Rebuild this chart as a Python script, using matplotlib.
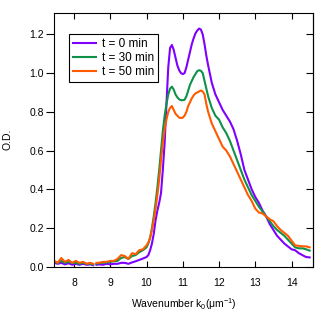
import numpy as np
import matplotlib
matplotlib.use("Agg")
import matplotlib.pyplot as plt

plt.rcParams['font.family'] = ['Liberation Sans', 'DejaVu Sans']
plt.rcParams['mathtext.fontset'] = 'custom'
plt.rcParams['mathtext.rm'] = 'Liberation Sans'
plt.rcParams['mathtext.it'] = 'Liberation Sans'

# wavenumber (um^-1); nan marks the gap in the measured data
wavenumber = [7.46, 7.55, 7.65, 7.75, 7.85, 7.95, 8.05, 8.15, 8.25, 8.35, 8.45, 8.53,
              np.nan,
              8.62, 8.7, 8.8, 8.9, 9.0, 9.1, 9.2, 9.3, 9.4, 9.5, 9.6, 9.7, 9.8, 9.9,
              10.0, 10.05, 10.1, 10.15, 10.2, 10.25, 10.3, 10.35, 10.4, 10.45, 10.5, 10.55,
              10.6, 10.65, 10.7, 10.75, 10.8, 10.85, 10.9, 10.95, 11.0, 11.05, 11.1, 11.15,
              11.2, 11.25, 11.3, 11.35, 11.4, 11.45, 11.5, 11.55, 11.6, 11.65, 11.7,
              11.8, 11.9, 12.0, 12.1, 12.2, 12.3, 12.4, 12.5, 12.6, 12.7, 12.8, 12.9, 13.0,
              13.1, 13.2, 13.3, 13.4, 13.5, 13.6, 13.7, 13.8, 13.9, 14.0, 14.1, 14.2, 14.3,
              14.4, 14.5]

od_t0 = [0.02, 0.015, 0.02, 0.012, 0.018, 0.01, 0.015, 0.01, 0.015, 0.01, 0.012, 0.008,
         np.nan,
         0.01, 0.012, 0.01, 0.015, 0.012, 0.015, 0.015, 0.02, 0.02, 0.015, 0.022, 0.028, 0.035, 0.042,
         0.05, 0.06, 0.085, 0.12, 0.17, 0.24, 0.29, 0.33, 0.38, 0.5, 0.64, 0.84,
         1.03, 1.13, 1.145, 1.12, 1.08, 1.04, 1.015, 1.0, 0.995, 1.0, 1.03, 1.07,
         1.11, 1.15, 1.18, 1.205, 1.22, 1.23, 1.225, 1.2, 1.15, 1.09, 1.04,
         0.95, 0.89, 0.85, 0.81, 0.78, 0.75, 0.71, 0.65, 0.58, 0.5, 0.45, 0.4, 0.36,
         0.33, 0.29, 0.26, 0.22, 0.19, 0.16, 0.14, 0.12, 0.105, 0.09, 0.085, 0.07, 0.06,
         0.05, 0.048]

od_t30 = [0.025, 0.02, 0.03, 0.02, 0.025, 0.02, 0.02, 0.015, 0.02, 0.015, 0.015, 0.012,
          np.nan,
          0.015, 0.02, 0.02, 0.022, 0.025, 0.028, 0.03, 0.045, 0.05, 0.04, 0.055, 0.06, 0.075, 0.085,
          0.1, 0.12, 0.15, 0.2, 0.26, 0.33, 0.41, 0.5, 0.6, 0.7, 0.78, 0.84,
          0.89, 0.92, 0.93, 0.915, 0.89, 0.875, 0.865, 0.86, 0.86, 0.862, 0.88, 0.91,
          0.94, 0.96, 0.98, 0.995, 1.01, 1.015, 1.012, 1.0, 0.96, 0.92, 0.88,
          0.82, 0.78, 0.76, 0.72, 0.69, 0.65, 0.6, 0.55, 0.5, 0.45, 0.41, 0.37, 0.34,
          0.31, 0.285, 0.26, 0.235, 0.21, 0.19, 0.175, 0.16, 0.14, 0.12, 0.1, 0.095, 0.095,
          0.09, 0.083]

od_t50 = [0.03, 0.02, 0.045, 0.025, 0.035, 0.02, 0.03, 0.02, 0.025, 0.015, 0.02, 0.015,
          np.nan,
          0.02, 0.02, 0.025, 0.025, 0.03, 0.03, 0.04, 0.06, 0.055, 0.04, 0.07, 0.065, 0.085, 0.09,
          0.11, 0.125, 0.15, 0.19, 0.24, 0.3, 0.37, 0.45, 0.55, 0.64, 0.71, 0.76,
          0.8, 0.82, 0.83, 0.81, 0.79, 0.78, 0.77, 0.768, 0.77, 0.78, 0.8, 0.83,
          0.85, 0.87, 0.885, 0.895, 0.9, 0.905, 0.91, 0.905, 0.89, 0.84, 0.8,
          0.74, 0.7, 0.66, 0.62, 0.6, 0.57, 0.53, 0.49, 0.45, 0.41, 0.37, 0.34, 0.3,
          0.28, 0.275, 0.26, 0.245, 0.235, 0.21, 0.19, 0.175, 0.16, 0.135, 0.11, 0.108, 0.105,
          0.105, 0.1]

labels = ['t = 0 min', 't = 30 min', 't = 50 min']
colors = ['#7f00ff', '#0f9148', '#ff5a00']
x_ticks = [8, 9, 10, 11, 12, 13, 14]
y_ticks = [0.0, 0.2, 0.4, 0.6, 0.8, 1.0, 1.2]

fig = plt.figure(figsize=(3.32, 3.14), dpi=100)
ax = fig.add_axes([0.1636, 0.1506, 0.78, 0.809])

for od, lab, c in zip([od_t0, od_t30, od_t50], labels, colors):
    ax.plot(wavenumber, od, color=c, lw=1.5, label=lab)

ax.set_xlim(7.457, 14.6)
ax.set_ylim(0, 1.312)
ax.set_xticks(x_ticks)
ax.set_yticks(y_ticks)
ax.yaxis.set_major_formatter(matplotlib.ticker.FormatStrFormatter('%.1f'))

for s in ax.spines.values():
    s.set_linewidth(0.8)

ax.tick_params(axis='x', direction='in', top=True, length=4, width=0.8, labelsize=7.5, pad=8)
ax.tick_params(axis='y', direction='out', length=5.5, width=0.8, labelsize=7.5, pad=2)
sec = ax.secondary_yaxis('right')
sec.set_yticks(y_ticks)
sec.tick_params(direction='in', length=5, width=0.8, labelright=False)

ax.set_xlabel('Wavenumber k$_0$(μm$^{-1}$)', fontsize=7.5, labelpad=6)
ax.set_ylabel('O.D.', fontsize=7.5, labelpad=12)

leg = ax.legend(loc='upper left', bbox_to_anchor=(0.058, 0.916), borderaxespad=0,
                fontsize=8.5, fancybox=False, framealpha=1, edgecolor='black',
                handlelength=1.9, handletextpad=0.5, labelspacing=0.15, borderpad=0.35)
leg.get_frame().set_linewidth(0.8)

fig.savefig('out.png', dpi=100)
